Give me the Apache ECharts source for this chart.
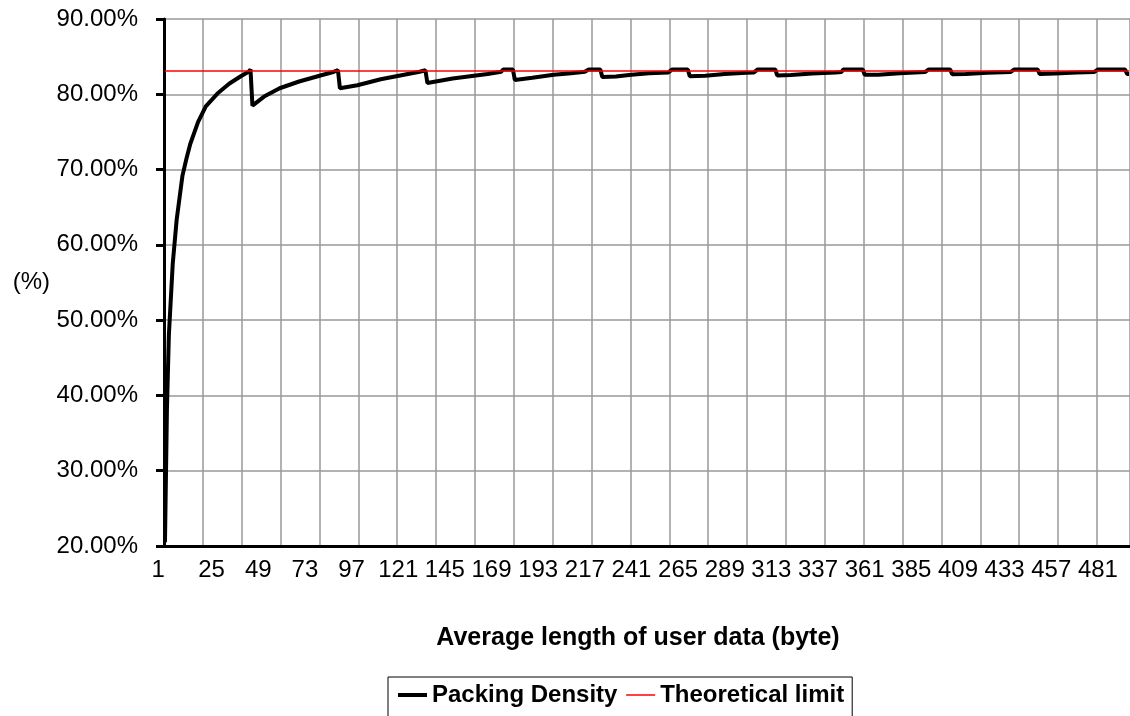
<!DOCTYPE html>
<html>
<head>
    <meta charset="UTF-8">
    <title>Packing Density</title>
    <style>
        *{
            margin: 0;
            padding: 0;
        }
        .container{
            width: 1130px;
            height: 716px;
            background: #fff;
        }
    </style>
    <script src="https://cdn.jsdelivr.net/npm/echarts@6/dist/echarts.min.js"></script>
</head>
<body>
<div class="container"></div>
<script>
    // x axis: average user data length, 1 .. 497 byte
    let byteLengths=[]
    for(let i=1;i<=497;i++){
        byteLengths.push(String(i))
    }

    // packing density (byte length -> %)
    let densityLen=[1,2,3,5,7,10,12,14,18,22,28,34,40,44,45,46,
        52,60,70,81,88,90,91,
        100,112,122,132,135,136,
        149,167,174,175,180,181,
        190,201,210,217,219,225,226,
        233,241,250,260,262,270,271,
        279,289,300,304,306,315,316,
        323,334,346,349,350,360,361,
        368,379,392,394,405,406,
        413,424,436,438,450,451,
        459,470,479,481,495,496,497]
    let densityVal=[20.5,38,48,57.5,63.3,69.2,71.4,73.4,76.3,78.4,80.1,81.4,82.4,83.0,83.3,78.5,
        79.7,80.8,81.7,82.5,83.0,83.2,80.8,
        81.2,82.0,82.5,83.0,83.2,81.5,
        82.1,82.7,83.0,83.3,83.3,81.9,
        82.2,82.6,82.8,83.0,83.3,83.3,82.3,
        82.35,82.6,82.8,82.9,83.3,83.3,82.4,
        82.45,82.7,82.85,82.9,83.3,83.3,82.5,
        82.55,82.75,82.9,82.95,83.3,83.3,82.6,
        82.6,82.8,82.95,83.3,83.3,82.65,
        82.7,82.85,82.95,83.3,83.3,82.7,
        82.75,82.9,82.95,83.3,83.3,82.7,82.7]

    // theoretical limit (%)
    let limitLen=[1,497]
    let limitVal=[83.1,83.1]

    let densityData=densityLen.map((l,i)=>[String(l),densityVal[i]])
    let limitData=limitLen.map((l,i)=>[String(l),limitVal[i]])

    let font='"Liberation Sans", Arial, sans-serif'

    let mychart=echarts.init(document.querySelector('.container'))
    let option={
        animation:false,
        textStyle:{fontFamily:font},
        grid:{
            left:164,
            right:0,
            top:19,
            bottom:170,
            containLabel:false
        },
        legend:{
            left:388,
            top:677,
            padding:[6,8,14,8],
            borderColor:'#000',
            borderWidth:1,
            borderRadius:0,
            itemWidth:29,
            itemHeight:14,
            itemGap:8,
            itemStyle:{opacity:0},
            textStyle:{
                fontFamily:font,
                fontSize:24,
                fontWeight:'bold',
                color:'#000'
            },
            data:[
                {name:'Packing Density',lineStyle:{width:4}},
                {name:'Theoretical limit',lineStyle:{width:1.5}}
            ]
        },
        xAxis:{
            type:'category',
            data:byteLengths,
            boundaryGap:true,
            name:'Average length of user data (byte)',
            nameLocation:'middle',
            nameGap:80,
            nameTextStyle:{
                fontFamily:font,
                fontSize:25,
                fontWeight:'bold',
                color:'#000',
                padding:[0,18,0,0]
            },
            axisLine:{lineStyle:{color:'#000',width:3}},
            axisTick:{
                interval:function(index){return index%20===0},
                length:7,
                lineStyle:{color:'#000',width:3}
            },
            axisLabel:{
                interval:function(index){return index%24===0},
                alignMinLabel:'right',
                margin:12,
                fontFamily:font,
                fontSize:24,
                color:'#000'
            },
            splitLine:{
                show:true,
                interval:function(index){return index%20===0},
                lineStyle:{color:'#999',width:1.5}
            }
        },
        yAxis:{
            type:'value',
            min:20,
            max:90,
            interval:10,
            name:'(%)',
            nameLocation:'middle',
            nameRotate:0,
            nameGap:114,
            nameTextStyle:{
                fontFamily:font,
                fontSize:24,
                color:'#000',
                padding:[0,0,27,0]
            },
            axisLine:{show:true,lineStyle:{color:'#000',width:3}},
            axisTick:{show:true,length:8,lineStyle:{color:'#000',width:3}},
            axisLabel:{
                margin:26,
                fontFamily:font,
                fontSize:24,
                color:'#000',
                formatter:function(v){return v.toFixed(2)+'%'}
            },
            splitLine:{lineStyle:{color:'#999',width:1.5}}
        },
        series:[
            {
                name:'Packing Density',
                type:'line',
                data:densityData,
                symbol:'none',
                color:'#000',
                lineStyle:{color:'#000',width:4}
            },
            {
                name:'Theoretical limit',
                type:'line',
                data:limitData,
                symbol:'none',
                color:'#ff0000',
                lineStyle:{color:'#ff0000',width:1.5}
            }
        ]
    }
    mychart.setOption(option)
</script>
</body>
</html>
